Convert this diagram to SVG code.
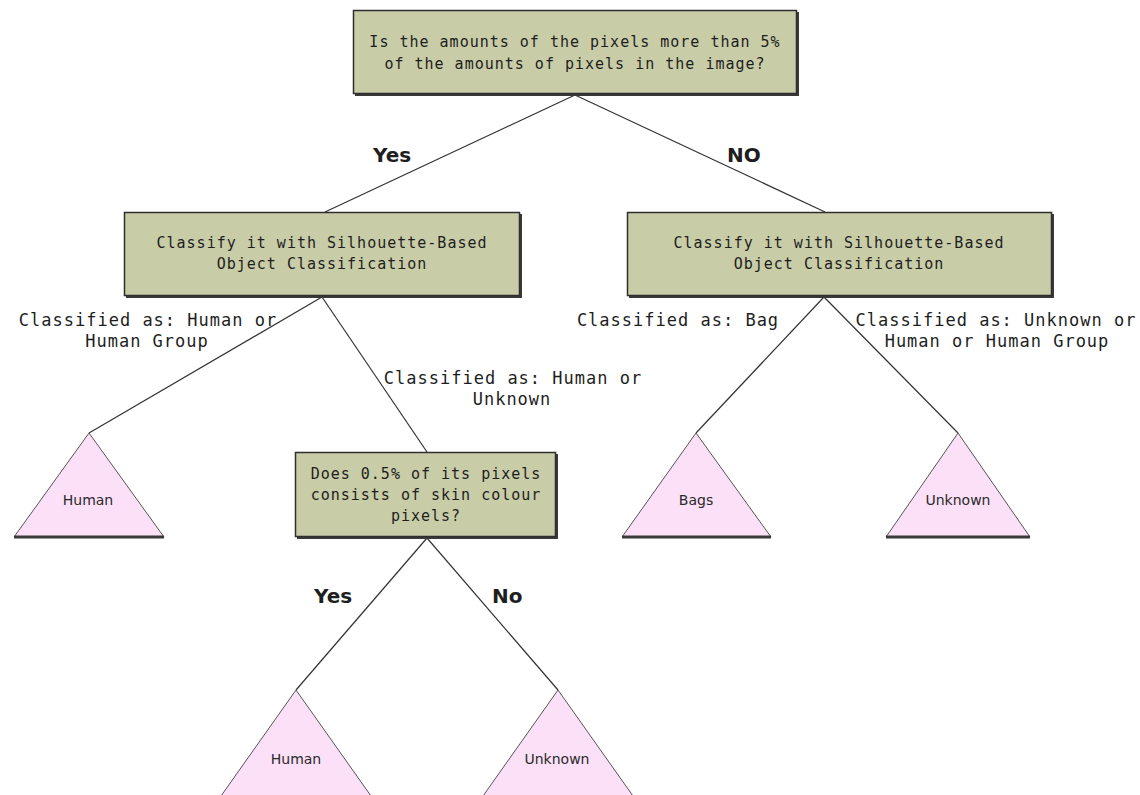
<svg xmlns="http://www.w3.org/2000/svg" width="1140" height="795" viewBox="0 0 1140 795">
  <defs>
    <style>
      .box { fill: #c8cca7; stroke: #2e2e2e; stroke-width: 1.5; }
      .shadow { fill: #3a3a3a; }
      .leaf { fill: #fbe0f7; stroke: #555; stroke-width: 1; }
      .base { stroke: #3a3a3a; stroke-width: 3; }
      .edge { stroke: #333; stroke-width: 1.2; fill: none; }
      .btxt { font-family: "DejaVu Sans Mono", "Liberation Mono", monospace; font-size: 15px; letter-spacing: 1px; fill: #1e1e1e; text-anchor: middle; }
      .etxt { font-family: "DejaVu Sans Mono", "Liberation Mono", monospace; font-size: 17px; letter-spacing: 1px; fill: #1e1e1e; text-anchor: middle; }
      .ltxt { font-family: "DejaVu Sans", "Liberation Sans", sans-serif; font-size: 14px; fill: #2a2a2a; text-anchor: middle; }
      .ans { font-family: "DejaVu Sans", "Liberation Sans", sans-serif; font-size: 20px; font-weight: bold; fill: #1e1e1e; }
    </style>
  </defs>
  <rect width="1140" height="795" fill="#ffffff"/>

  <!-- connectors -->
  <g id="connectors">
    <line class="edge" x1="575" y1="95" x2="325" y2="212"/>
    <line class="edge" x1="575" y1="95" x2="825" y2="212"/>
    <line class="edge" x1="322" y1="297" x2="89" y2="433"/>
    <line class="edge" x1="322" y1="297" x2="427" y2="452"/>
    <line class="edge" x1="824" y1="297" x2="696" y2="433"/>
    <line class="edge" x1="824" y1="297" x2="958" y2="433"/>
    <line class="edge" x1="427" y1="538" x2="296" y2="690"/>
    <line class="edge" x1="427" y1="538" x2="558" y2="690"/>
    <text class="ans" x="373" y="162">Yes</text>
    <text class="ans" x="727" y="162">NO</text>
    <text class="ans" x="314" y="603">Yes</text>
    <text class="ans" x="492" y="603">No</text>
    <text class="etxt" x="148" y="326">Classified as: Human or</text>
    <text class="etxt" x="147" y="347">Human Group</text>
    <text class="etxt" x="513" y="384">Classified as: Human or</text>
    <text class="etxt" x="512" y="405">Unknown</text>
    <text class="etxt" x="678" y="326">Classified as: Bag</text>
    <text class="etxt" x="996" y="326">Classified as: Unknown or</text>
    <text class="etxt" x="997" y="347">Human or Human Group</text>
  </g>

  <!-- root question -->
  <g id="root">
    <rect class="shadow" x="355" y="12" width="444" height="84"/>
    <rect class="box" x="353.5" y="10.5" width="443" height="83"/>
    <text class="btxt" x="575" y="47">Is the amounts of the pixels more than 5%</text>
    <text class="btxt" x="575" y="69">of the amounts of pixels in the image?</text>
  </g>

  <g id="classify-left">
    <rect class="shadow" x="126" y="214" width="396" height="84"/>
    <rect class="box" x="124.5" y="212.5" width="395" height="83"/>
    <text class="btxt" x="322" y="248">Classify it with Silhouette-Based</text>
    <text class="btxt" x="322" y="269">Object Classification</text>
  </g>

  <g id="classify-right">
    <rect class="shadow" x="629" y="214" width="425" height="84"/>
    <rect class="box" x="627.5" y="212.5" width="424" height="83"/>
    <text class="btxt" x="839" y="248">Classify it with Silhouette-Based</text>
    <text class="btxt" x="839" y="269">Object Classification</text>
  </g>

  <g id="skin-test">
    <rect class="shadow" x="297" y="454" width="261" height="85"/>
    <rect class="box" x="295.5" y="452.5" width="260" height="84"/>
    <text class="btxt" x="426" y="479">Does 0.5% of its pixels</text>
    <text class="btxt" x="426" y="500">consists of skin colour</text>
    <text class="btxt" x="426" y="521">pixels?</text>
  </g>

  <!-- leaves -->
  <g id="leaf-human-1">
    <polygon class="leaf" points="89,433 164,537 14,537"/>
    <line class="base" x1="14" y1="537" x2="164" y2="537"/>
    <text class="ltxt" x="88" y="505">Human</text>
  </g>

  <g id="leaf-bags">
    <polygon class="leaf" points="696,433 771,537 622,537"/>
    <line class="base" x1="622" y1="537" x2="771" y2="537"/>
    <text class="ltxt" x="696" y="505">Bags</text>
  </g>

  <g id="leaf-unknown-1">
    <polygon class="leaf" points="958,433 1030,537 886,537"/>
    <line class="base" x1="886" y1="537" x2="1030" y2="537"/>
    <text class="ltxt" x="958" y="505">Unknown</text>
  </g>

  <g id="leaf-human-2">
    <polygon class="leaf" points="296,690 371,796 221,796"/>
    <text class="ltxt" x="296" y="764">Human</text>
  </g>

  <g id="leaf-unknown-2">
    <polygon class="leaf" points="558,690 633,796 483,796"/>
    <text class="ltxt" x="557" y="764">Unknown</text>
  </g>
</svg>
